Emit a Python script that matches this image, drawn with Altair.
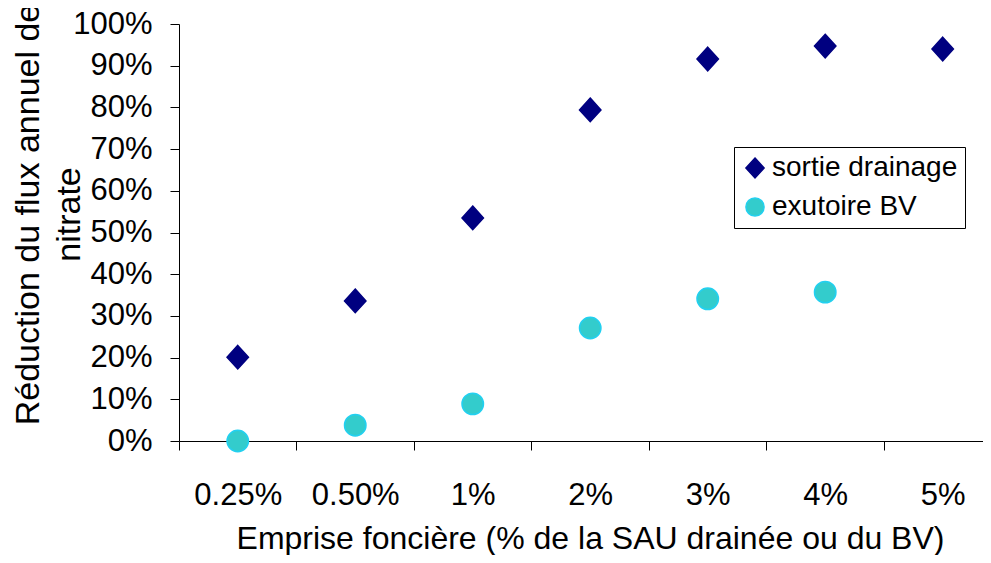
import json
import altair as alt
import pandas as pd

categories = ["0.25%", "0.50%", "1%", "2%", "3%", "4%", "5%"]
sortie_drainage = [0.201, 0.336, 0.535, 0.794, 0.916, 0.947, 0.940]
exutoire_bv = [0.0, 0.038, 0.089, 0.271, 0.341, 0.357, None]
series_names = ["sortie drainage", "exutoire BV"]

rows = []
for i, v in enumerate(sortie_drainage):
    rows.append({"idx": i, "cat": categories[i], "val": v, "serie": series_names[0]})
for i, v in enumerate(exutoire_bv):
    if v is not None:
        rows.append({"idx": i, "cat": categories[i], "val": v, "serie": series_names[1]})
df = pd.DataFrame(rows)

FONT = "Liberation Sans"
diamond = "M0,-1.1L1,0L0,1.1L-1,0Z"

# category centres at integers, boundaries at half-integers
x_values = []
for i in range(len(categories)):
    x_values += [i - 0.5, i]
cat_js = json.dumps(categories)
label_expr = f"datum.value % 1 === 0 ? {cat_js}[datum.value] : ''"

chart = alt.Chart(df).mark_point(filled=True, opacity=1, strokeWidth=1.5, size=460).encode(
    x=alt.X("idx:Q",
            scale=alt.Scale(domain=[-0.5, 6.343], nice=False, zero=False),
            axis=alt.Axis(title="Emprise foncière (% de la SAU drainée ou du BV)",
                          values=x_values, labelExpr=label_expr,
                          labelAngle=0, tickSize=9, tickColor="black",
                          tickOpacity=alt.condition("datum.value % 1 === 0", alt.value(0), alt.value(1)),
                          domainColor="black", labelFontSize=31, labelFont=FONT, labelColor="black",
                          labelPadding=30, labelFlush=False, labelOverlap=False,
                          titleFont=FONT, titleFontSize=32, titleFontWeight="normal",
                          titleColor="black", titleX=411, titleY=107, titleBaseline="alphabetic",
                          titleAnchor="middle", grid=False, labelLimit=0)),
    y=alt.Y("val:Q",
            scale=alt.Scale(domain=[0, 1], nice=False),
            axis=alt.Axis(title=["Réduction du flux annuel de", "nitrate"],
                          values=[i / 10 for i in range(11)], format=".0%",
                          tickSize=9, tickColor="black", domainColor="black",
                          labelFontSize=31, labelFont=FONT, labelColor="black", labelPadding=18,
                          titleFont=FONT, titleFontSize=34, titleFontWeight="normal", titleColor="black",
                          titleAngle=-90, titleX=-134, titleY=190, titleAlign="center",
                          titleBaseline="bottom", titleLineHeight=41, grid=False)),
    fill=alt.Fill("serie:N", scale=alt.Scale(domain=series_names, range=["#000080", "#33CCCC"]),
                  legend=alt.Legend(title=None)),
    stroke=alt.Stroke("serie:N", scale=alt.Scale(domain=series_names, range=["#000080", "#22D0F0"]),
                      legend=alt.Legend(title=None)),
    shape=alt.Shape("serie:N", scale=alt.Scale(domain=series_names, range=[diamond, "circle"]),
                    legend=alt.Legend(title=None)),
    tooltip=["cat:N", "val:Q"],
).properties(
    width=804, height=417,
    autosize=alt.AutoSizeParams(type="none"),
    padding={"left": 171, "top": 16, "right": 0, "bottom": 114},
).configure_view(stroke=None).configure_legend(
    orient="none", legendX=555, legendY=123, strokeColor="black", fillColor="white",
    padding=7, labelFontSize=28, labelFont=FONT, labelColor="black", symbolSize=330,
    rowPadding=11, labelOffset=3, labelLimit=0, symbolStrokeWidth=1.5, cornerRadius=0,
)

chart.save("out.html", embed_options={"renderer": "svg", "actions": False})
